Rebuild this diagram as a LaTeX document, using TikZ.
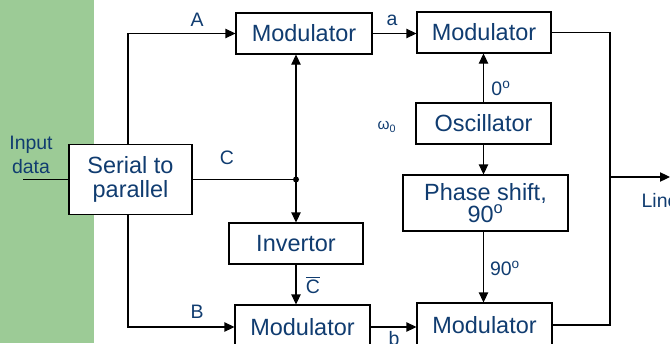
\documentclass[tikz,border=0pt]{standalone}
\usepackage{fontspec}
\setmainfont{Liberation Sans}
\usetikzlibrary{arrows.meta,positioning}
\definecolor{txtblue}{RGB}{16,60,112}
\definecolor{bandgreen}{RGB}{156,203,150}
\newcommand{\degsym}{\textsuperscript{o}}

\begin{document}
\begin{tikzpicture}[x=0.75pt,y=-0.75pt,>={Triangle[length=7.5pt,width=7pt]},
    blk/.style={draw,line width=0.8pt,fill=white,text=txtblue,align=center,
      font=\fontsize{17.6}{17.4}\selectfont,inner sep=0pt},
    sz/.style 2 args={minimum width=#1*0.75pt,minimum height=#2*0.75pt},
    lbl/.style={text=txtblue,font=\fontsize{14.6}{18}\selectfont,inner sep=0pt,align=center},
    wire/.style={line width=0.8pt}]
\useasboundingbox (0,0) rectangle (670,343);
\fill[bandgreen] (0,0) rectangle (94,343);

% blocks
\node[blk,sz={123}{70}] (ser) at (130.5,179.5) {Serial to\\parallel};
\node[blk,sz={136}{41}] (modA) at (304,33.5) {Modulator};
\node[blk,sz={134}{41}] (modB) at (484,32.5) {Modulator};
\node[blk,sz={135}{41}] (osc) at (483.5,123.5) {Oscillator};
\node[blk,sz={165}{56}] (phase) at (485.5,203) {Phase shift,\\[-1pt]90\degsym};
\node[blk,sz={134}{41}] (inv) at (296,243.5) {Invertor};
\node[blk,sz={135}{44}] (modC) at (302.5,327) {Modulator};
\node[blk,sz={135}{44}] (modD) at (484.5,325) {Modulator};

\coordinate (in) at (23,179.5);
\coordinate (ca) at (128,0);
\coordinate (jn) at (296,179.5);
\coordinate (bus) at (610,177);
\coordinate (out) at (670,177);

% connections
\draw[wire] (in) -- (ser.west);
\draw[wire,->] (ser.north -| ca) |- (modA.west);
\draw[wire,->] (ser.south -| ca) |- (modC.west);
\draw[wire] (ser.east) -- (jn);
\fill (jn) circle (3);
\draw[wire,->] (jn) -- (jn |- modA.south);
\draw[wire,->] (jn) -- (jn |- inv.north);
\draw[wire,->] (inv.south -| jn) -- (jn |- modC.north);
\draw[wire,->] (modA.east) -- (modA.east -| modB.west);
\draw[wire,->] (modC.east) -- (modC.east -| modD.west);
\draw[wire,->] (osc.north) -- (osc.north |- modB.south);
\draw[wire,->] (osc.south) -- (osc.south |- phase.north);
\draw[wire,->] (phase.south -| osc) -- (osc |- modD.north);
\draw[wire] (modB.east) -| (bus) |- (modD.east);
\draw[wire,->] (bus) -- (out);

% labels
\foreach \x/\y/\t [count=\i] in {197/20/A, 392/20/a, 227/158/C, 197/312/B,
    394/339/b, 313/285/$\overline{\hbox{C}}$, 501/88/0\degsym,
    505/268/90\degsym, 31/155/Input\\data, 660/201/Line}
  \node[lbl] (lab\i) at (\x,\y) {\t};
\node[lbl,font=\fontsize{11.5}{13}\selectfont] (omega) at (387,127) {ω\textsubscript{0}};
\end{tikzpicture}
\end{document}
